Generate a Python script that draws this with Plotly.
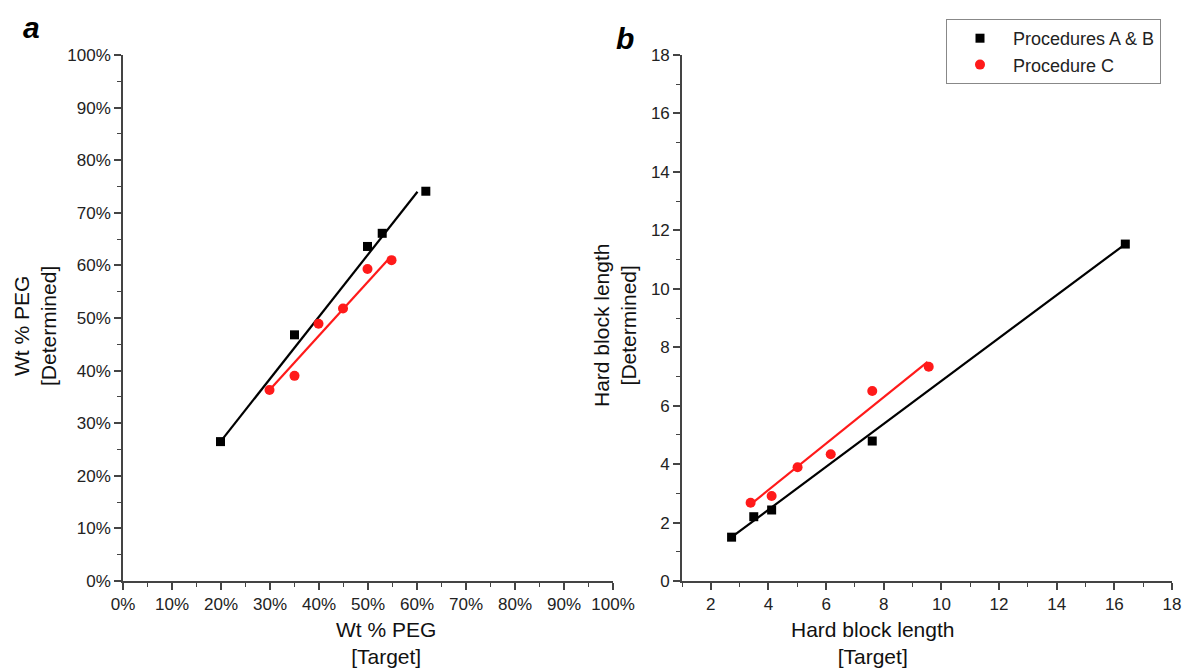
import plotly.graph_objects as go

# ---------------- data ----------------
# Panel a: Wt % PEG, target vs determined
a_ab_target = [19.9, 35.0, 49.9, 52.9, 61.8]
a_ab_determined = [26.5, 46.8, 63.6, 66.1, 74.1]
a_c_target = [29.9, 35.0, 39.9, 44.9, 49.9, 54.8]
a_c_determined = [36.3, 39.0, 48.9, 51.8, 59.3, 61.0]
# fitted lines (end points)
a_ab_fit_x = [19.9, 60.1]
a_ab_fit_y = [26.5, 74.0]
a_c_fit_x = [29.9, 54.4]
a_c_fit_y = [36.3, 61.4]

# Panel b: hard block length, target vs determined
b_ab_target = [2.72, 3.49, 4.11, 7.60, 16.38]
b_ab_determined = [1.50, 2.20, 2.43, 4.79, 11.53]
b_c_target = [3.38, 4.11, 5.01, 6.16, 7.60, 9.56]
b_c_determined = [2.68, 2.91, 3.89, 4.34, 6.50, 7.33]
b_ab_fit_x = [2.72, 16.38]
b_ab_fit_y = [1.50, 11.53]
b_c_fit_x = [3.35, 9.52]
b_c_fit_y = [2.60, 7.50]

series_names = ["Procedures A & B", "Procedure C"]
pct_ticks = list(range(0, 101, 10))
pct_labels = [f"{v}%" for v in pct_ticks]
b_x_ticks = list(range(2, 19, 2))
b_y_ticks = list(range(0, 19, 2))

BLACK = "#000000"
RED = "#ff1a1a"
FONT = "Liberation Sans, Arial, Helvetica, sans-serif"

fig = go.Figure()

# panel a
fig.add_trace(go.Scatter(x=a_ab_fit_x, y=a_ab_fit_y, mode="lines",
                         line=dict(color=BLACK, width=2.2), showlegend=False,
                         xaxis="x", yaxis="y"))
fig.add_trace(go.Scatter(x=a_c_fit_x, y=a_c_fit_y, mode="lines",
                         line=dict(color=RED, width=2.2), showlegend=False,
                         xaxis="x", yaxis="y"))
fig.add_trace(go.Scatter(x=a_ab_target, y=a_ab_determined, mode="markers",
                         marker=dict(symbol="square", size=9, color=BLACK),
                         showlegend=False, xaxis="x", yaxis="y"))
fig.add_trace(go.Scatter(x=a_c_target, y=a_c_determined, mode="markers",
                         marker=dict(symbol="circle", size=10, color=RED),
                         showlegend=False, xaxis="x", yaxis="y"))

# panel b
fig.add_trace(go.Scatter(x=b_ab_fit_x, y=b_ab_fit_y, mode="lines",
                         line=dict(color=BLACK, width=2.2), showlegend=False,
                         xaxis="x2", yaxis="y2"))
fig.add_trace(go.Scatter(x=b_c_fit_x, y=b_c_fit_y, mode="lines",
                         line=dict(color=RED, width=2.2), showlegend=False,
                         xaxis="x2", yaxis="y2"))
fig.add_trace(go.Scatter(x=b_ab_target, y=b_ab_determined, mode="markers",
                         name=series_names[0],
                         marker=dict(symbol="square", size=9, color=BLACK),
                         xaxis="x2", yaxis="y2"))
fig.add_trace(go.Scatter(x=b_c_target, y=b_c_determined, mode="markers",
                         name=series_names[1],
                         marker=dict(symbol="circle", size=10, color=RED),
                         xaxis="x2", yaxis="y2"))

W, H = 1184, 671

def px(v):
    return v / W

def py(v):
    return 1 - v / H

axis_common = dict(
    showgrid=False, zeroline=False, showline=True, linecolor="#444444",
    linewidth=1.6, ticks="outside", ticklen=7, tickwidth=1.6,
    tickcolor="#444444", tickfont=dict(family=FONT, size=17, color="#222222"),
    automargin=False, mirror=False,
)
minor_a = dict(dtick=5, ticks="outside", ticklen=4, tickwidth=1.4, tickcolor="#444444")
minor_b = dict(dtick=1, tick0=0, ticks="outside", ticklen=4, tickwidth=1.4, tickcolor="#444444")

fig.update_layout(
    width=W, height=H,
    margin=dict(l=0, r=0, t=0, b=0),
    paper_bgcolor="white", plot_bgcolor="white",
    font=dict(family=FONT, color="#111111"),
    xaxis=dict(domain=[px(123), px(613)], range=[0, 100], anchor="y",
               tickmode="array", tickvals=pct_ticks, ticktext=pct_labels,
               minor=minor_a, **axis_common),
    yaxis=dict(domain=[py(581), py(55)], range=[0, 100], anchor="x",
               tickmode="array", tickvals=pct_ticks, ticktext=pct_labels,
               minor=minor_a, **axis_common),
    xaxis2=dict(domain=[px(682), px(1172)], range=[1, 18], anchor="y2",
                tickmode="array", tickvals=b_x_ticks,
                minor=minor_b, **axis_common),
    yaxis2=dict(domain=[py(581), py(55)], range=[0, 18], anchor="x2",
                tickmode="array", tickvals=b_y_ticks,
                minor=minor_b, **axis_common),
    legend=dict(x=px(946), y=py(19), xanchor="left", yanchor="top",
                bordercolor="#888888", borderwidth=1, bgcolor="white",
                font=dict(family=FONT, size=18, color="#222222"),
                tracegroupgap=0, itemwidth=56),
)

title_font = dict(family=FONT, size=21, color="#111111")
annots = [
    dict(text="Wt % PEG<br>[Target]", x=px(386), y=py(643)),
    dict(text="Hard block length<br>[Target]", x=px(873), y=py(643)),
    dict(text="Wt % PEG<br>[Determined]", x=px(35), y=py(326), textangle=-90),
    dict(text="Hard block length<br>[Determined]", x=px(615), y=py(326), textangle=-90),
]
for a in annots:
    fig.add_annotation(xref="paper", yref="paper", showarrow=False,
                       xanchor="center", yanchor="middle", font=title_font, **a)

panel_font = dict(family=FONT, size=30, color="#000000")
fig.add_annotation(text="<b><i>a</i></b>", xref="paper", yref="paper",
                   x=px(31), y=py(27), showarrow=False, font=panel_font,
                   xanchor="center", yanchor="middle")
fig.add_annotation(text="<b><i>b</i></b>", xref="paper", yref="paper",
                   x=px(625), y=py(38), showarrow=False, font=panel_font,
                   xanchor="center", yanchor="middle")

# remove the browser's default page margin so the figure fills the window
fig.write_html("out.html", config={"displayModeBar": False},
               post_script="document.body.style.margin='0px';")
